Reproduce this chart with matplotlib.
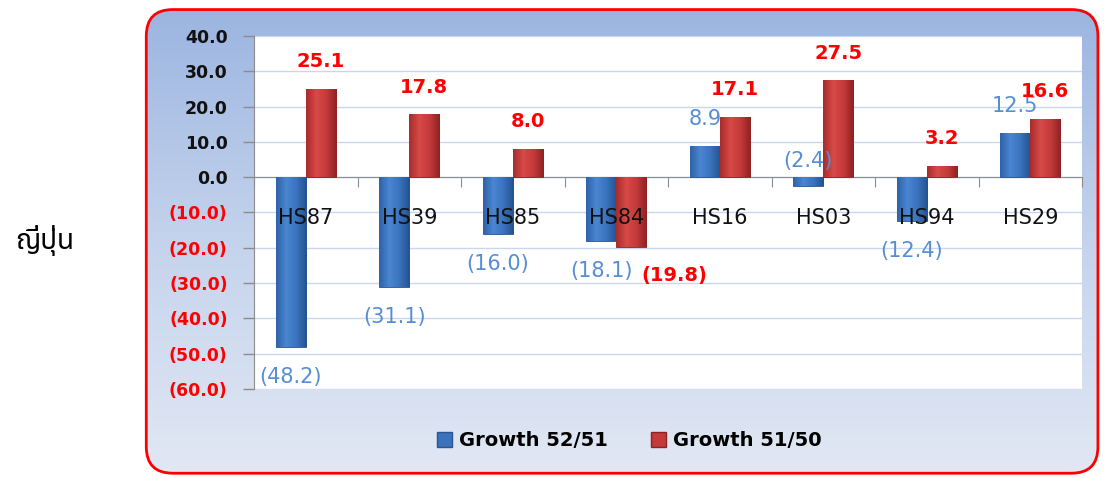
import numpy as np
import matplotlib
matplotlib.use("Agg")
import matplotlib.pyplot as plt
from matplotlib import font_manager
from matplotlib.ft2font import FT2Font
from matplotlib.patches import FancyBboxPatch, Patch
from matplotlib.colors import LinearSegmentedColormap
from matplotlib.ticker import FixedLocator, FuncFormatter

categories = ['HS87', 'HS39', 'HS85', 'HS84', 'HS16', 'HS03', 'HS94', 'HS29']
growth_52_51 = [-48.2, -31.1, -16.0, -18.1, 8.9, -2.4, -12.4, 12.5]
growth_51_50 = [25.1, 17.8, 8.0, -19.8, 17.1, 27.5, 3.2, 16.6]
series_names = ['Growth 52/51', 'Growth 51/50']
side_label = 'ญี่ปุ่น'
y_ticks = [40, 30, 20, 10, 0, -10, -20, -30, -40, -50, -60]

BLUE_LBL = '#558ed5'
RED_LBL = '#ff0000'


def find_family(text):
    # installed fonts that have every glyph of the text, sans ones first
    found = []
    for f in font_manager.fontManager.ttflist:
        try:
            cmap = FT2Font(f.fname).get_charmap()
        except Exception:
            continue
        if all(ord(ch) in cmap for ch in text):
            found.append(f.name)
    if not found:
        return None
    for pref in ['Noto Sans Thai', 'Tahoma', 'Loma', 'Garuda', 'Waree', 'Umpush', 'Sawasdee']:
        if pref in found:
            return pref
    for name in found:
        if 'Sans' in name:
            return name
    return found[0]


thai_family = find_family(side_label)
families = ['DejaVu Sans']
if thai_family:
    families.append(thai_family)
plt.rcParams['font.family'] = families

fig = plt.figure(figsize=(11.04, 4.78), dpi=100)
fig.patch.set_facecolor('white')

# rounded background box with vertical gradient
bg = fig.add_axes([0, 0, 1, 1], zorder=-5)
bg.set_xlim(0, 1)
bg.set_ylim(0, 1)
bg.axis('off')
box = FancyBboxPatch((0.1325, 0.01), 0.862, 0.97,
                     boxstyle="round,pad=0,rounding_size=0.024",
                     mutation_aspect=1104 / 478,
                     facecolor='none', edgecolor='#ff0000', linewidth=2,
                     transform=bg.transAxes)
bg.add_patch(box)
grad_cmap = LinearSegmentedColormap.from_list('bgg', ['#e2e8f4', '#c4d3ec', '#9ab4e0'])
grad = np.linspace(0, 1, 256).reshape(-1, 1)
im = bg.imshow(grad, extent=[0, 1, 0, 1], origin='lower', aspect='auto',
               cmap=grad_cmap, transform=bg.transAxes)
im.set_clip_path(box)

bg.text(0.040, 0.497, side_label, fontsize=20, ha='center', va='center',
        family=[thai_family] if thai_family else None)

ax = fig.add_axes([0.2301, 0.1862, 0.75, 0.7385])
ax.set_facecolor('white')

x = np.arange(len(categories))
w = 0.29
off = 0.145

blue_cmap = LinearSegmentedColormap.from_list('b', ['#2f62a8', '#4a86d2', '#3a72bd', '#25528f'])
red_cmap = LinearSegmentedColormap.from_list('r', ['#a82c2c', '#d64a48', '#c43a3a', '#8f2222'])

bars1 = ax.bar(x - off, growth_52_51, w, color='#3a72bd', edgecolor='#2a5590', linewidth=0.6, zorder=3)
bars2 = ax.bar(x + off, growth_51_50, w, color='#c43a3a', edgecolor='#8a2424', linewidth=0.6, zorder=3)

hgrad = np.linspace(0, 1, 64).reshape(1, -1)
for bars, cm in [(bars1, blue_cmap), (bars2, red_cmap)]:
    for b in bars:
        x0 = b.get_x()
        y0 = b.get_y()
        im = ax.imshow(hgrad, extent=[x0, x0 + b.get_width(), y0, y0 + b.get_height()],
                       aspect='auto', cmap=cm, zorder=3.5)
        im.set_clip_path(b)

ax.set_xlim(-0.5, len(categories) - 0.5)
ax.set_ylim(-60, 40)

# y axis
ax.yaxis.set_major_locator(FixedLocator(y_ticks))
ax.yaxis.set_major_formatter(FuncFormatter(lambda v, p: f"{v:.1f}" if v >= 0 else f"({abs(v):.1f})"))
ax.tick_params(axis='y', direction='out', length=8, width=1, color='#8c8c8c', labelsize=12.5, pad=11)
for t, v in zip(ax.get_yticklabels(), y_ticks):
    t.set_fontweight('bold')
    t.set_color('#111111' if v >= 0 else RED_LBL)
ax.grid(axis='y', color='#c8d7ee', linewidth=1, zorder=0)

# x axis at zero with ticks between categories
ax.spines['bottom'].set_position(('data', 0))
ax.spines['bottom'].set_color('#8c8c8c')
ax.spines['left'].set_color('#8c8c8c')
ax.spines['top'].set_visible(False)
ax.spines['right'].set_visible(False)
ax.set_xticks(np.arange(-0.5, len(categories), 1.0))
ax.tick_params(axis='x', direction='out', length=7, color='#8c8c8c', labelbottom=False)

for xi, c in zip(x, categories):
    ax.text(xi, -11.6, c, ha='center', va='center', fontsize=15, color='#111111', zorder=5)


def fmt(v):
    return f"{v:.1f}" if v >= 0 else f"({abs(v):.1f})"


# data labels
for xi, v in zip(x, growth_52_51):
    dy = 19.5 if v >= 0 else -21.5
    yy = v
    if -5 < v < 0:
        yy, dy = 0, 12
    ax.annotate(fmt(v), (xi - off, yy), xytext=(0, dy), textcoords='offset points',
                ha='center', va='center', fontsize=15, color=BLUE_LBL, zorder=6)

for xi, v in zip(x, growth_51_50):
    dy = 19.5 if v >= 0 else -20.5
    dx = 0 if v >= 0 else 31
    ax.annotate(fmt(v), (xi + off, v), xytext=(dx, dy), textcoords='offset points',
                ha='center', va='center', fontsize=14, fontweight='bold', color=RED_LBL, zorder=6)

handles = [Patch(facecolor='#3a72bd', edgecolor='#2a5590'),
           Patch(facecolor='#c43a3a', edgecolor='#8a2424')]
fig.legend(handles, series_names, loc='center', bbox_to_anchor=(0.570, 0.078), ncol=2,
           frameon=False, handlelength=0.8, handleheight=0.8,
           handletextpad=0.35, columnspacing=2.2,
           prop={'weight': 'semibold', 'size': 14})

fig.savefig('out.png', dpi=100)
